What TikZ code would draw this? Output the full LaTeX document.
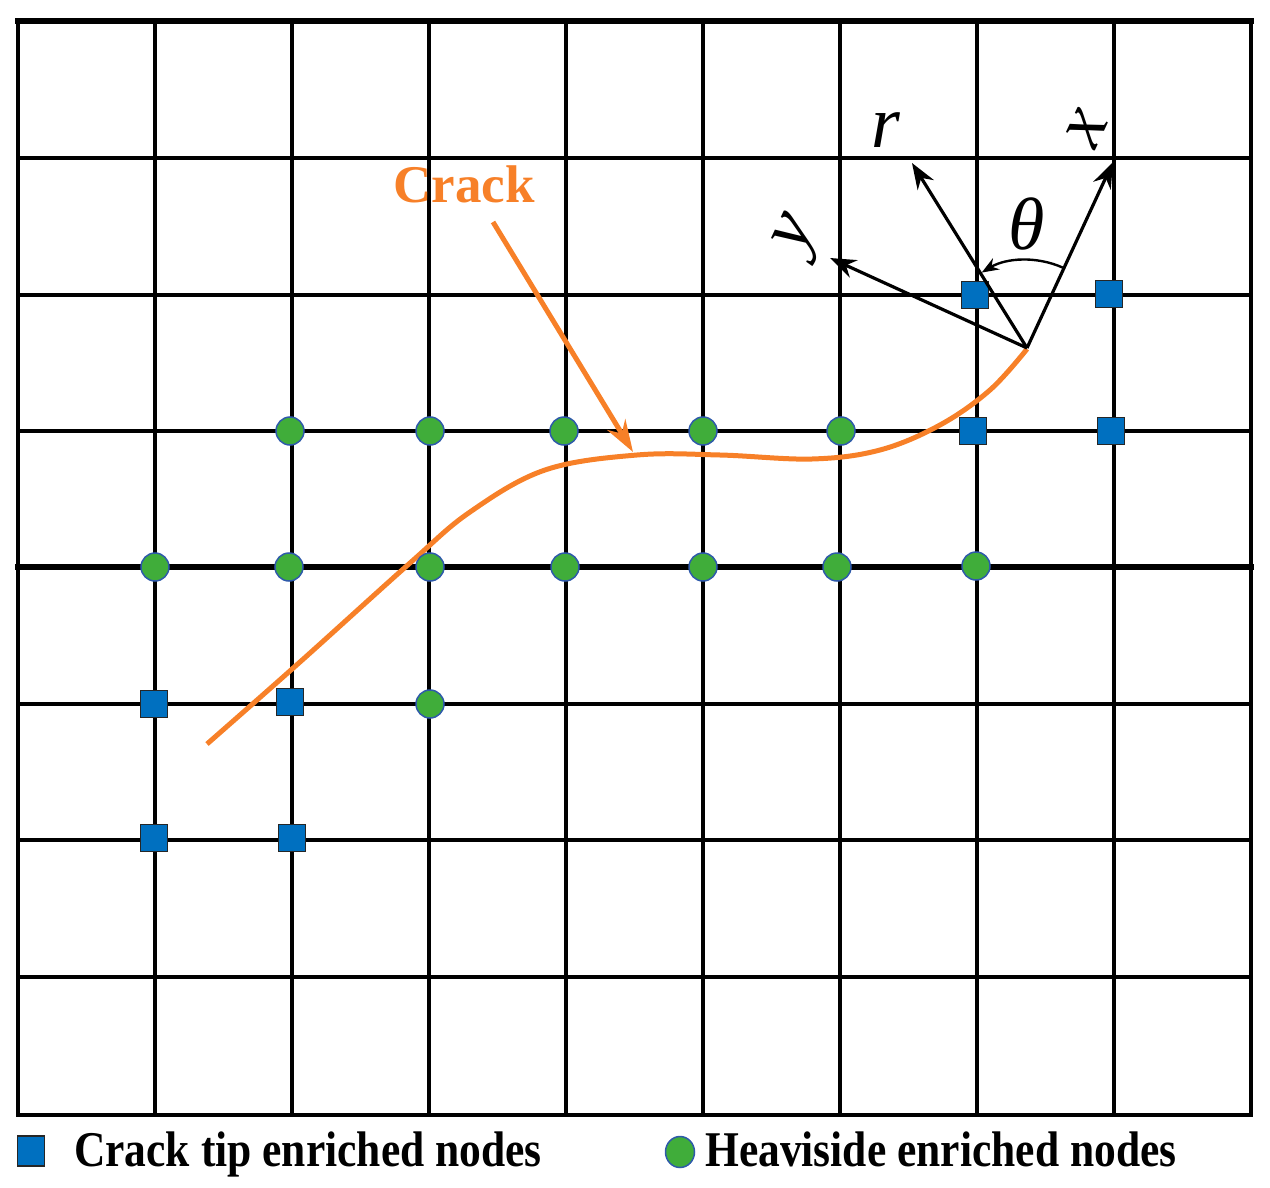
\documentclass[tikz,border=0pt]{standalone}
\usepackage{fontspec}
\setmainfont{Liberation Serif}
\usetikzlibrary{arrows.meta,shapes.geometric}
\definecolor{crackorange}{RGB}{247,128,40}
\definecolor{tipblue}{RGB}{0,112,192}
\definecolor{heavgreen}{RGB}{64,173,58}
\definecolor{rimblue}{RGB}{46,90,170}
\begin{document}
\begin{tikzpicture}[x=1pt,y=-1pt,
  gridline/.style={line width=4.5pt, line cap=rect},
  tipnode/.style={rectangle, draw=black!85, line width=1.8pt, fill=tipblue, minimum size=27pt, inner sep=0pt},
  heavnode/.style={circle, draw=rimblue, line width=1.5pt, fill=heavgreen, minimum size=28pt, inner sep=0pt},
  axisarrow/.style={line width=3.2pt, -{Stealth[length=26pt,width=19pt]}},
  anglearrow/.style={line width=2.4pt, -{Stealth[length=17pt,width=13pt]}},
  crackline/.style={draw=crackorange, line width=5pt},
  pointer/.style={draw=crackorange, line width=5pt, -{Stealth[length=32pt,width=21pt]}},
  axislabel/.style={font=\fontsize{74}{80}\selectfont\itshape, inner sep=0pt},
  legendtext/.style={font=\fontsize{50}{56}\selectfont\bfseries, anchor=base west, inner sep=0pt}
]
\useasboundingbox (0,0) rectangle (1270,1188);
% grid
\foreach \x in {18,155,292,429,566,703,840,977,1114,1251}
  \draw[gridline] (\x,20) -- (\x,1115);
\foreach \y in {20,158,295,431,704,840,977,1115}
  \draw[gridline] (18,\y) -- (1251,\y);
\draw[gridline, line width=6pt] (18,567) -- (1251,567);
\draw[gridline, line width=6.5pt] (18,21) -- (1251,21);

% crack curve
\coordinate (tip) at (1027,348);
\coordinate (crackstart) at (207,744);
\draw[crackline] plot[smooth, tension=0.6] coordinates {(207,744) (300,662) (410,563) (470,512) (545,470) (637,455) (720,455) (812,459) (880,450) (940,425) (990,390) (1027,349)};

% crack tip enriched nodes
\node[tipnode] (t1) at (975,295) {};
\node[tipnode] (t2) at (1109,294) {};
\node[tipnode] (t3) at (973,431) {};
\node[tipnode] (t4) at (1111,431) {};
\node[tipnode] (t5) at (154,704) {};
\node[tipnode] (t6) at (290,702) {};
\node[tipnode] (t7) at (154,838) {};
\node[tipnode] (t8) at (292,838) {};

% heaviside enriched nodes
\node[heavnode] (h1) at (290,431) {};
\node[heavnode] (h2) at (430,431) {};
\node[heavnode] (h3) at (564,431) {};
\node[heavnode] (h4) at (703,431) {};
\node[heavnode] (h5) at (841,431) {};
\node[heavnode] (h6) at (155,567) {};
\node[heavnode] (h7) at (289,567) {};
\node[heavnode] (h8) at (430,567) {};
\node[heavnode] (h9) at (565,567) {};
\node[heavnode] (h10) at (703,567) {};
\node[heavnode] (h11) at (837,567) {};
\node[heavnode] (h12) at (976,566) {};
\node[heavnode] (h13) at (430,704) {};

% local coordinate system at the crack tip
\coordinate (xend) at (1113,162);
\coordinate (rend) at (912,163);
\coordinate (yend) at (830,258);
\draw[axisarrow] (tip) -- (xend);
\draw[axisarrow] (tip) -- (rend);
\draw[axisarrow] (tip) -- (yend);
\draw[anglearrow] ([shift={(-66:88)}]tip) arc[start angle=-66, end angle=-121, radius=88];
\node[axislabel] (xlab) at (1087,128) [rotate=65] {x};
\node[axislabel] (rlab) at (886,130) {r};
\node[axislabel] (ylab) at (800,236) [rotate=65] {y};
\node[axislabel] (thlab) at (1027,224) {θ};

% crack label and pointer
\node[font=\fontsize{53}{60}\selectfont\bfseries, text=crackorange, inner sep=0pt] (cracklab) at (464,184) {Crack};
\coordinate (pstart) at (493,222);
\coordinate (pend) at (633,452);
\draw[pointer] (pstart) -- (pend);

% legend
\node[rectangle, draw=black!85, line width=1.8pt, fill=tipblue, minimum width=27pt, minimum height=30pt, inner sep=0pt] (legtip) at (31,1151) {};
\node[legendtext] (legtiptext) at (74,1166) {\scalebox{0.87}[1]{Crack tip enriched nodes}};
\node[ellipse, draw=rimblue, line width=1.5pt, fill=heavgreen, minimum width=29pt, minimum height=31pt, inner sep=0pt] (legheav) at (680,1152) {};
\node[legendtext] (legheavtext) at (705,1166) {\scalebox{0.87}[1]{Heaviside enriched nodes}};
\end{tikzpicture}
\end{document}
